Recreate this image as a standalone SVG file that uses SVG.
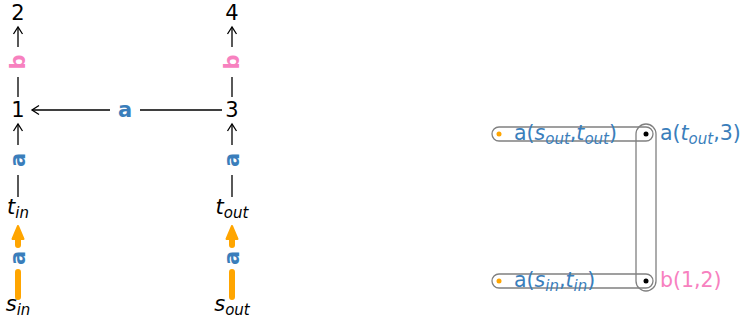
<svg xmlns="http://www.w3.org/2000/svg" width="741" height="324" viewBox="0 0 741 324">
<style>
.node{font-family:"DejaVu Sans",sans-serif;font-size:21px;fill:#000;text-anchor:middle}
.it{font-style:italic}
.el{font-family:"DejaVu Sans",sans-serif;font-size:21px;font-weight:bold;text-anchor:middle;dominant-baseline:central}
.blue{fill:#3a7ebb}
.pink{fill:#f781bf}
.edge{fill:none;stroke:#000;stroke-width:1.3}
.thick{fill:none;stroke:#ffa500;stroke-width:6;stroke-linecap:round}
.head{fill:#ffa500;stroke:#ffa500;stroke-width:2;stroke-linejoin:round}
.pill{fill:none;stroke:#808080;stroke-width:1.3}
.lbl{font-family:"DejaVu Sans",sans-serif;font-size:20.5px}
</style>
<defs>
<marker id="arr" markerUnits="userSpaceOnUse" markerWidth="12" markerHeight="12" viewBox="-10 -6 12 12" refX="0" refY="0" orient="auto">
<path d="M-7,-4.5 L0,0 L-7,4.5" fill="none" stroke="#000" stroke-width="1.3"/>
</marker>
</defs>
<g id="connectors">
<path class="edge" d="M18,97 L18,77 M18,47 L18,27" marker-end="url(#arr)"/>
<path class="edge" d="M232,97 L232,77 M232,47 L232,27" marker-end="url(#arr)"/>
<path class="edge" d="M18,197 L18,175 M18,145 L18,124" marker-end="url(#arr)"/>
<path class="edge" d="M232,197 L232,175 M232,145 L232,124" marker-end="url(#arr)"/>
<path class="edge" d="M222,110 L140,110 M110,110 L32,110" marker-end="url(#arr)"/>
<path class="thick" d="M18,297 L18,272 M18,245 L18,237"/>
<polygon class="head" points="18,226 12.5,239 23.5,239"/>
<path class="thick" d="M232,297 L232,272 M232,245 L232,237"/>
<polygon class="head" points="232,226 226.5,239 237.5,239"/>
<text class="el pink" transform="translate(18,62) rotate(-90)">b</text>
<text class="el pink" transform="translate(232,62) rotate(-90)">b</text>
<text class="el blue" transform="translate(18,160) rotate(-90)">a</text>
<text class="el blue" transform="translate(232,160) rotate(-90)">a</text>
<text class="el blue" transform="translate(18,258) rotate(-90)">a</text>
<text class="el blue" transform="translate(232,258) rotate(-90)">a</text>
<text class="el blue" x="125" y="110">a</text>
</g>
<g id="n2"><text class="node" x="18" y="20">2</text></g>
<g id="n1"><text class="node" x="18" y="117">1</text></g>
<g id="tin"><text class="node it" x="18" y="214">t<tspan font-size="15" dy="4">in</tspan></text></g>
<g id="sin"><text class="node it" x="18" y="311">s<tspan font-size="15" dy="4">in</tspan></text></g>
<g id="n4"><text class="node" x="232" y="20">4</text></g>
<g id="n3"><text class="node" x="232" y="117">3</text></g>
<g id="tout"><text class="node it" x="232" y="214">t<tspan font-size="15" dy="4">out</tspan></text></g>
<g id="sout"><text class="node it" x="232" y="311">s<tspan font-size="15" dy="4">out</tspan></text></g>
<g id="hyper-a-out">
<rect class="pill" x="492" y="127" width="161" height="14" rx="7" ry="7"/>
<circle cx="499" cy="134" r="2.5" fill="#ffa500"/>
<text class="lbl blue" x="514" y="140">a(<tspan font-style="italic">s</tspan><tspan font-style="italic" font-size="15" dy="4">out</tspan><tspan dy="-4">,</tspan><tspan font-style="italic">t</tspan><tspan font-style="italic" font-size="15" dy="4">out</tspan><tspan dy="-4">)</tspan></text>
</g>
<g id="hyper-a-t3">
<rect class="pill" x="636" y="124" width="20" height="167" rx="10" ry="10"/>
<circle cx="646" cy="134" r="2.5" fill="#000"/>
<circle cx="646" cy="281" r="2.5" fill="#000"/>
<text class="lbl blue" x="660" y="140">a(<tspan font-style="italic">t</tspan><tspan font-style="italic" font-size="15" dy="4">out</tspan><tspan dy="-4">,3)</tspan></text>
</g>
<g id="hyper-a-in">
<rect class="pill" x="492" y="274" width="161" height="14" rx="7" ry="7"/>
<circle cx="499" cy="281" r="2.5" fill="#ffa500"/>
<text class="lbl blue" x="514" y="287">a(<tspan font-style="italic">s</tspan><tspan font-style="italic" font-size="15" dy="4">in</tspan><tspan dy="-4">,</tspan><tspan font-style="italic">t</tspan><tspan font-style="italic" font-size="15" dy="4">in</tspan><tspan dy="-4">)</tspan></text>
</g>
<g id="hyper-b">
<text class="lbl pink" x="660" y="287">b(1,2)</text>
</g>
</svg>
